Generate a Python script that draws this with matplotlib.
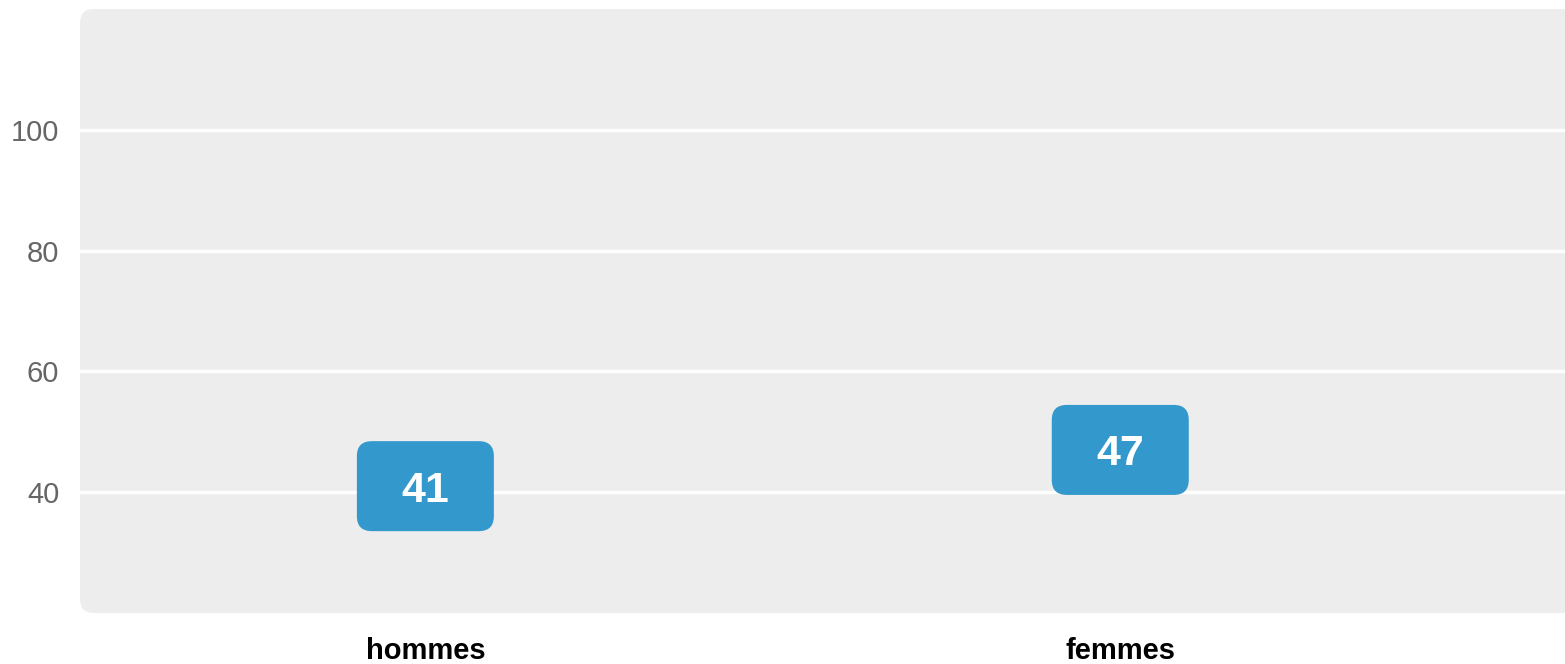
import numpy as np
import matplotlib
matplotlib.use("Agg")
import matplotlib.pyplot as plt
import matplotlib.transforms as mtransforms
from matplotlib.patches import FancyBboxPatch

plt.rcParams["font.family"] = ["Liberation Sans", "DejaVu Sans"]

categories = ["hommes", "femmes"]
values = [41, 47]
y_ticks = [40, 60, 80, 100]

W, H = 1565, 664
fig = plt.figure(figsize=(W / 100, H / 100), dpi=100)
left, right, top, bottom = 80, 1565, 9, 613
ax = fig.add_axes([left / W, (H - bottom) / H, (right - left) / W, (bottom - top) / H])
ax.patch.set_visible(False)
for s in ax.spines.values():
    s.set_visible(False)

# rounded grey panel (right edge runs off the figure)
panel = FancyBboxPatch((left, H - bottom), right - left + 40, bottom - top,
                       boxstyle="round,pad=0,rounding_size=14",
                       transform=mtransforms.IdentityTransform(),
                       facecolor="#ededed", edgecolor="none", zorder=-10)
fig.patches.append(panel)

ax.set_xlim(-0.497, 1.64)
ax.set_ylim(20, 120)
ax.set_yticks(y_ticks, [str(t) for t in y_ticks])
ax.set_xticks(range(len(categories)), categories)
ax.tick_params(axis="y", length=0, pad=15, labelsize=21, labelcolor="#666666")
ax.tick_params(axis="x", length=0, pad=17, labelsize=21)
for lab in ax.get_xticklabels():
    lab.set_fontweight("bold")
ax.grid(axis="y", color="white", linewidth=2.5)
ax.set_axisbelow(True)

bw, bh = 137, 90
for i, v in enumerate(values):
    trans = mtransforms.IdentityTransform() + mtransforms.ScaledTranslation(i, v, ax.transData)
    box = FancyBboxPatch((-bw / 2, -bh / 2), bw, bh,
                         boxstyle="round,pad=0,rounding_size=15",
                         transform=trans, facecolor="#3399cc", edgecolor="none", zorder=3)
    ax.add_patch(box)
    ax.text(i, v, str(v), ha="center", va="center_baseline", color="white",
            fontsize=31, fontweight="bold", zorder=4)

fig.savefig("out.png", dpi=100)
